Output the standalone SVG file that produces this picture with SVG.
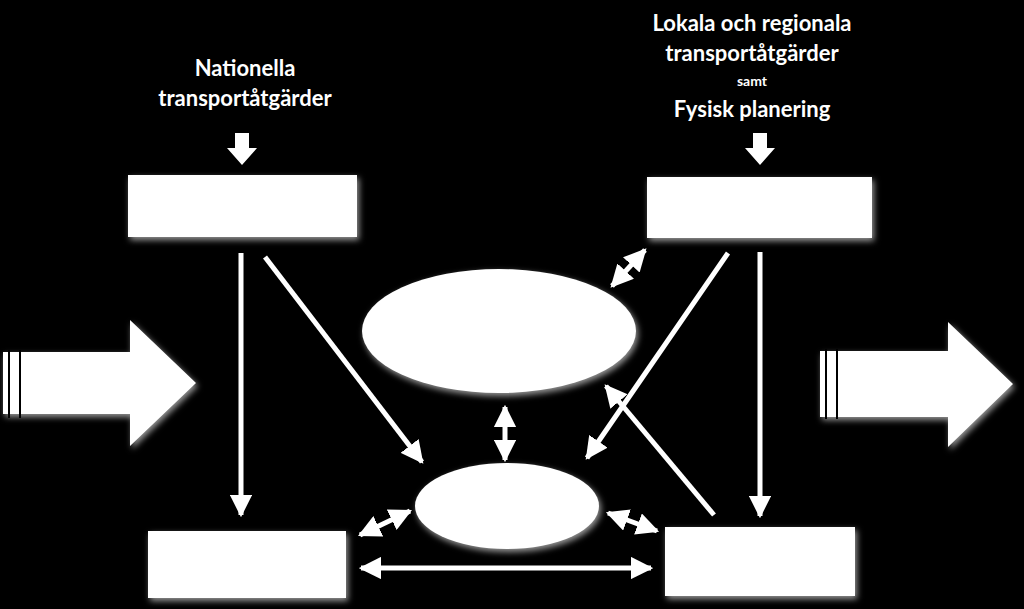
<svg xmlns="http://www.w3.org/2000/svg" width="1024" height="609" viewBox="0 0 1024 609">
<style>
.t{font-family:Lato,"Liberation Sans",Arial,sans-serif;font-weight:bold;fill:#fff;text-anchor:middle}
.n{fill:#fff;filter:url(#g)}
.c{stroke:#fff;stroke-width:5;fill:none}
</style>
<defs>
<filter id="g" x="-20%" y="-20%" width="140%" height="140%"><feDropShadow dx="2" dy="3" stdDeviation="3" flood-color="#fff" flood-opacity="0.6"/></filter>
<marker id="a" viewBox="0 0 10 10" refX="9" refY="5" markerWidth="4.5" markerHeight="4.5" orient="auto-start-reverse"><path d="M0,0L10,5L0,10z" fill="#fff"/></marker>
</defs>
<rect width="1024" height="609" fill="#000"/>
<text class="t" x="245" y="76" font-size="22">Nationella</text>
<text class="t" x="245" y="106" font-size="22">transportåtgärder</text>
<text class="t" x="752" y="31" font-size="22">Lokala och regionala</text>
<text class="t" x="752" y="61" font-size="22">transportåtgärder</text>
<text class="t" x="752" y="86" font-size="14">samt</text>
<text class="t" x="752" y="117" font-size="22">Fysisk planering</text>
<g id="nodeTL"><rect class="n" x="128" y="175" width="229" height="62"/></g>
<g id="nodeTR"><rect class="n" x="647" y="177" width="225" height="61"/></g>
<g id="nodeBL"><rect class="n" x="148" y="531" width="198" height="67"/></g>
<g id="nodeBR"><rect class="n" x="665" y="527" width="190" height="69"/></g>
<g id="nodeE1"><ellipse class="n" cx="499" cy="331" rx="137" ry="62"/></g>
<g id="nodeE2"><ellipse class="n" cx="507" cy="506" rx="92" ry="43"/></g>
<g id="arrowIn"><path class="n" d="M3,352H130V320L196,383L130,446V414H3Z"/><rect x="8" y="350" width="2" height="68" fill="#000"/><rect x="19" y="350" width="2" height="68" fill="#000"/></g>
<g id="arrowOut"><path class="n" d="M820,351H948V322L1013,384L948,447V417H820Z"/><rect x="825" y="349" width="2" height="70" fill="#000"/><rect x="836" y="349" width="2" height="70" fill="#000"/></g>
<g id="connectors">
<path fill="#fff" d="M235,133H249V148H257L242,165L227,148H235Z"/>
<path fill="#fff" d="M753,133H767V148H775L760,165L745,148H753Z"/>
<line class="c" x1="241" y1="253" x2="241" y2="515" marker-end="url(#a)"/>
<line class="c" x1="265" y1="257" x2="422" y2="462" marker-end="url(#a)"/>
<line class="c" x1="760" y1="252" x2="760" y2="516" marker-end="url(#a)"/>
<line class="c" x1="728" y1="253" x2="587" y2="458" marker-end="url(#a)"/>
<line class="c" x1="714" y1="515" x2="606" y2="386" marker-end="url(#a)"/>
<line class="c" x1="612" y1="286" x2="645" y2="250" marker-start="url(#a)" marker-end="url(#a)"/>
<line class="c" x1="505" y1="407" x2="505" y2="460" marker-start="url(#a)" marker-end="url(#a)"/>
<line class="c" x1="360" y1="535" x2="410" y2="511" marker-start="url(#a)" marker-end="url(#a)"/>
<line class="c" x1="608" y1="513" x2="657" y2="531" marker-start="url(#a)" marker-end="url(#a)"/>
<line class="c" x1="361" y1="568" x2="651" y2="568" marker-start="url(#a)" marker-end="url(#a)"/>
</g>
</svg>
